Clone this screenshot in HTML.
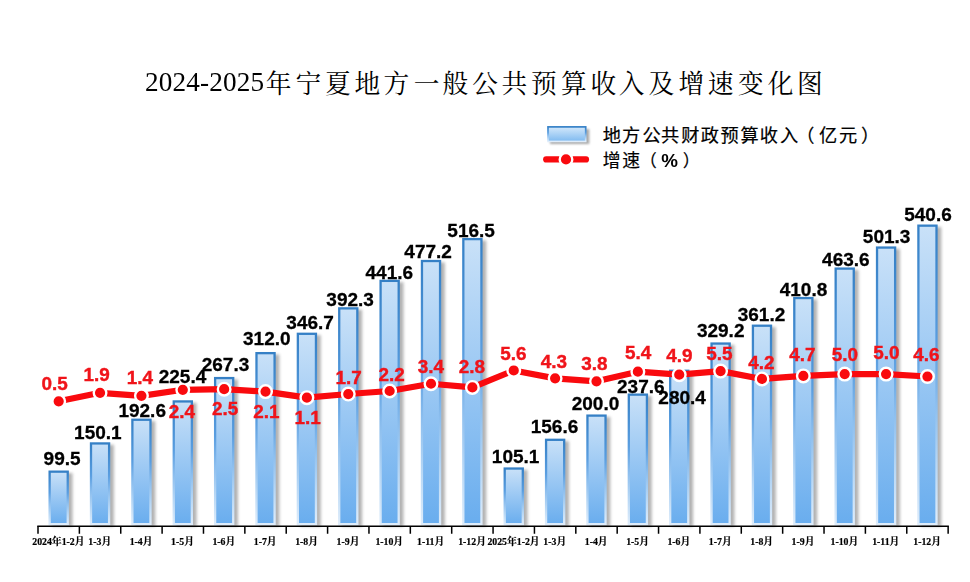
<!DOCTYPE html>
<html lang="zh-CN"><head><meta charset="utf-8"><title>2024-2025年宁夏地方一般公共预算收入及增速变化图</title>
<style>
html,body{margin:0;padding:0;background:#fff}
#c{position:relative;width:970px;height:582px;overflow:hidden;background:#fff;font-family:"Liberation Sans",sans-serif}
#c>svg{position:absolute;left:0;top:0}
.l{position:absolute;white-space:nowrap;line-height:1;opacity:.999}
.b,.r{transform:translateX(-50%)}
.b{font:bold 19px/1 "Liberation Sans",sans-serif;color:#000;-webkit-text-stroke:.3px #000}
.r{font:bold 18.9px/1 "Liberation Sans",sans-serif;color:#f0141a;-webkit-text-stroke:.4px #f0141a}
.x{font:bold 9.8px/1 "Liberation Serif","Noto Serif CJK SC",serif;color:#000;transform:translateX(-50%);-webkit-text-stroke:.2px #000}
#ttl{position:absolute;left:204.7px;transform:translateX(-50%);top:68.9px;white-space:nowrap;font:27.2px/1 "Liberation Serif",serif;color:#000;opacity:.999;letter-spacing:.15px}
.lg{position:absolute;transform:translateX(-50%);white-space:nowrap;font:bold 18.8px/1 "Liberation Sans",sans-serif;color:#000;opacity:.999}
</style></head><body>
<div id="c">
<svg width="970" height="582" viewBox="0 0 970 582" aria-hidden="true">
<defs>
<linearGradient id="gf" x1="0" y1="0" x2="0" y2="1"><stop offset="0" stop-color="#c9e1f8"/><stop offset="1" stop-color="#69adee"/></linearGradient>
<linearGradient id="gs" x1="0" y1="0" x2="0" y2="1"><stop offset="0" stop-color="#3580c6"/><stop offset="0.4" stop-color="#5a9ee0"/><stop offset="0.6" stop-color="#8cbeee"/><stop offset="0.8" stop-color="#b7d7f5"/><stop offset="1" stop-color="#deecfa"/></linearGradient>
<linearGradient id="gl" x1="0" y1="0" x2="0" y2="1"><stop offset="0" stop-color="#d3e8fb"/><stop offset="1" stop-color="#7fbaf0"/></linearGradient>
<filter id="sh" x="-50%" y="-5%" width="200%" height="110%"><feGaussianBlur stdDeviation="1.7"/></filter>
<filter id="sh2" x="-20%" y="-50%" width="140%" height="200%"><feGaussianBlur stdDeviation="1.2"/></filter>
</defs>
<g fill="#4a4a4a" opacity="0.42" filter="url(#sh)">
<rect x="52.09" y="473.01" width="20.40" height="53.49"/>
<rect x="93.45" y="444.79" width="20.40" height="81.71"/>
<rect x="134.83" y="421.09" width="20.40" height="105.41"/>
<rect x="176.19" y="402.79" width="20.40" height="123.71"/>
<rect x="217.56" y="379.43" width="20.40" height="147.07"/>
<rect x="258.94" y="354.50" width="20.40" height="172.00"/>
<rect x="300.31" y="335.15" width="20.40" height="191.35"/>
<rect x="341.68" y="309.71" width="20.40" height="216.79"/>
<rect x="383.05" y="282.22" width="20.40" height="244.28"/>
<rect x="424.42" y="262.37" width="20.40" height="264.13"/>
<rect x="465.79" y="240.45" width="20.40" height="286.05"/>
<rect x="507.16" y="469.89" width="20.40" height="56.61"/>
<rect x="548.52" y="441.16" width="20.40" height="85.34"/>
<rect x="589.89" y="416.96" width="20.40" height="109.54"/>
<rect x="631.26" y="395.99" width="20.40" height="130.51"/>
<rect x="672.63" y="372.12" width="20.40" height="154.38"/>
<rect x="714.00" y="344.91" width="20.40" height="181.59"/>
<rect x="755.37" y="327.06" width="20.40" height="199.44"/>
<rect x="796.74" y="299.40" width="20.40" height="227.10"/>
<rect x="838.11" y="269.95" width="20.40" height="256.55"/>
<rect x="879.48" y="248.92" width="20.40" height="277.58"/>
<rect x="920.85" y="227.01" width="20.40" height="299.49"/>
</g>
<g fill="url(#gf)" stroke="url(#gs)" stroke-width="2.3">
<rect x="49.63" y="471.66" width="18.10" height="52.49"/>
<rect x="91.00" y="443.44" width="18.10" height="80.71"/>
<rect x="132.38" y="419.74" width="18.10" height="104.41"/>
<rect x="173.75" y="401.44" width="18.10" height="122.71"/>
<rect x="215.12" y="378.08" width="18.10" height="146.07"/>
<rect x="256.48" y="353.15" width="18.10" height="171.00"/>
<rect x="297.85" y="333.80" width="18.10" height="190.35"/>
<rect x="339.22" y="308.36" width="18.10" height="215.79"/>
<rect x="380.59" y="280.87" width="18.10" height="243.28"/>
<rect x="421.96" y="261.02" width="18.10" height="263.13"/>
<rect x="463.33" y="239.10" width="18.10" height="285.05"/>
<rect x="504.70" y="468.54" width="18.10" height="55.61"/>
<rect x="546.07" y="439.81" width="18.10" height="84.34"/>
<rect x="587.44" y="415.61" width="18.10" height="108.54"/>
<rect x="628.81" y="394.64" width="18.10" height="129.51"/>
<rect x="670.18" y="370.77" width="18.10" height="153.38"/>
<rect x="711.55" y="343.56" width="18.10" height="180.59"/>
<rect x="752.92" y="325.71" width="18.10" height="198.44"/>
<rect x="794.29" y="298.05" width="18.10" height="226.10"/>
<rect x="835.66" y="268.60" width="18.10" height="255.55"/>
<rect x="877.03" y="247.57" width="18.10" height="276.58"/>
<rect x="918.40" y="225.66" width="18.10" height="298.49"/>
</g>
<g stroke="#000" stroke-width="1.5" fill="none">
<path d="M37.25 526.30H948.89"/>
<path d="M38.00 526.30V533.80M79.37 526.30V533.80M120.74 526.30V533.80M162.11 526.30V533.80M203.48 526.30V533.80M244.85 526.30V533.80M286.22 526.30V533.80M327.59 526.30V533.80M368.96 526.30V533.80M410.33 526.30V533.80M451.70 526.30V533.80M493.07 526.30V533.80M534.44 526.30V533.80M575.81 526.30V533.80M617.18 526.30V533.80M658.55 526.30V533.80M699.92 526.30V533.80M741.29 526.30V533.80M782.66 526.30V533.80M824.03 526.30V533.80M865.40 526.30V533.80M906.77 526.30V533.80M948.14 526.30V533.80"/>
</g>
<polyline points="58.69,401.28 100.05,392.82 141.43,395.84 182.79,389.80 224.16,389.20 265.53,391.62 306.90,397.66 348.27,394.03 389.64,391.01 431.01,383.76 472.38,387.39 513.75,370.48 555.12,378.33 596.50,381.35 637.87,371.68 679.24,374.70 720.60,371.08 761.97,378.93 803.34,375.91 844.71,374.10 886.08,374.10 927.45,376.52" fill="none" stroke="#f90a0e" stroke-width="6.2" stroke-linejoin="round" stroke-linecap="round"/>
<g fill="#f90a0e" stroke="#fff" stroke-width="2.4">
<circle cx="58.69" cy="401.28" r="6.3"/>
<circle cx="100.05" cy="392.82" r="6.3"/>
<circle cx="141.43" cy="395.84" r="6.3"/>
<circle cx="182.79" cy="389.80" r="6.3"/>
<circle cx="224.16" cy="389.20" r="6.3"/>
<circle cx="265.53" cy="391.62" r="6.3"/>
<circle cx="306.90" cy="397.66" r="6.3"/>
<circle cx="348.27" cy="394.03" r="6.3"/>
<circle cx="389.64" cy="391.01" r="6.3"/>
<circle cx="431.01" cy="383.76" r="6.3"/>
<circle cx="472.38" cy="387.39" r="6.3"/>
<circle cx="513.75" cy="370.48" r="6.3"/>
<circle cx="555.12" cy="378.33" r="6.3"/>
<circle cx="596.50" cy="381.35" r="6.3"/>
<circle cx="637.87" cy="371.68" r="6.3"/>
<circle cx="679.24" cy="374.70" r="6.3"/>
<circle cx="720.60" cy="371.08" r="6.3"/>
<circle cx="761.97" cy="378.93" r="6.3"/>
<circle cx="803.34" cy="375.91" r="6.3"/>
<circle cx="844.71" cy="374.10" r="6.3"/>
<circle cx="886.08" cy="374.10" r="6.3"/>
<circle cx="927.45" cy="376.52" r="6.3"/>
</g>
<rect x="550" y="129" width="39.3" height="15" fill="#555" opacity="0.5" filter="url(#sh2)"/>
<rect x="548" y="126.9" width="37.7" height="14.5" fill="url(#gl)" stroke="url(#gs)" stroke-width="1.7"/>
<path d="M546.2 159.4H586" stroke="#f90a0e" stroke-width="6.2" stroke-linecap="round"/>
<circle cx="566" cy="159.4" r="6.3" fill="#f90a0e" stroke="#fff" stroke-width="2.4"/>
<g fill="#000">
<text y="93" font-size="25.7" font-family="'Liberation Serif','Noto Serif CJK SC',serif" x="265.74 295.55 325.00 354.53 383.55 413.86 442.45 472.16 501.56 530.95 561.02 590.38 618.87 648.62 678.49 707.70 738.12 767.77 796.89">年宁夏地方一般公共预算收入及增速变化图</text>
<g stroke="#000" stroke-width="0.2" font-family="'Liberation Sans','Noto Sans CJK SC',sans-serif">
<text y="141.6" font-size="18.2" x="602.84 622.08 642.55 661.06 681.13 700.66 720.56 740.41 759.72 779.90 796.30 819.07 838.88 860.93">地方公共财政预算收入（亿元）</text>
<text y="167.2" font-size="17.8" x="602.66 622.15">增速</text>
<text y="167.3" font-size="17.1" x="639.64">（</text>
<text y="167.3" font-size="17.1" x="682.75">）</text>
</g>
</g>
</svg>
<div id="ttl">2024-2025</div>
<div class="lg" style="left:669.6px;top:151.8px">%</div>
<div class="l b" style="left:62.1px;top:448.7px">99.5</div>
<div class="l b" style="left:97.9px;top:422.8px">150.1</div>
<div class="l b" style="left:142.2px;top:401.0px">192.6</div>
<div class="l b" style="left:182.5px;top:366.5px">225.4</div>
<div class="l b" style="left:225.5px;top:355.1px">267.3</div>
<div class="l b" style="left:266.8px;top:328.5px">312.0</div>
<div class="l b" style="left:310.1px;top:312.6px">346.7</div>
<div class="l b" style="left:350.1px;top:289.9px">392.3</div>
<div class="l b" style="left:389.3px;top:263.2px">441.6</div>
<div class="l b" style="left:428.1px;top:242.4px">477.2</div>
<div class="l b" style="left:471.1px;top:221.4px">516.5</div>
<div class="l b" style="left:515.6px;top:446.9px">105.1</div>
<div class="l b" style="left:554.5px;top:416.7px">156.6</div>
<div class="l b" style="left:595.5px;top:394.0px">200.0</div>
<div class="l b" style="left:640.8px;top:377.4px">237.6</div>
<div class="l b" style="left:682.1px;top:387.6px">280.4</div>
<div class="l b" style="left:720.7px;top:321.3px">329.2</div>
<div class="l b" style="left:761.5px;top:305.0px">361.2</div>
<div class="l b" style="left:803.5px;top:280.1px">410.8</div>
<div class="l b" style="left:845.9px;top:249.6px">463.6</div>
<div class="l b" style="left:886.6px;top:226.8px">501.3</div>
<div class="l b" style="left:928.0px;top:205.4px">540.6</div>
<div class="l r" style="left:54.6px;top:375.2px">0.5</div>
<div class="l r" style="left:96.7px;top:366.2px">1.9</div>
<div class="l r" style="left:140.0px;top:369.0px">1.4</div>
<div class="l r" style="left:181.9px;top:403.4px">2.4</div>
<div class="l r" style="left:225.2px;top:399.6px">2.5</div>
<div class="l r" style="left:266.3px;top:403.1px">2.1</div>
<div class="l r" style="left:307.6px;top:409.1px">1.1</div>
<div class="l r" style="left:348.6px;top:368.7px">1.7</div>
<div class="l r" style="left:391.6px;top:365.6px">2.2</div>
<div class="l r" style="left:430.8px;top:357.6px">3.4</div>
<div class="l r" style="left:471.9px;top:357.6px">2.8</div>
<div class="l r" style="left:513.4px;top:344.6px">5.6</div>
<div class="l r" style="left:554.0px;top:353.4px">4.3</div>
<div class="l r" style="left:594.4px;top:355.4px">3.8</div>
<div class="l r" style="left:638.2px;top:344.2px">5.4</div>
<div class="l r" style="left:679.5px;top:347.0px">4.9</div>
<div class="l r" style="left:719.5px;top:345.1px">5.5</div>
<div class="l r" style="left:761.4px;top:353.9px">4.2</div>
<div class="l r" style="left:802.5px;top:346.4px">4.7</div>
<div class="l r" style="left:844.8px;top:346.1px">5.0</div>
<div class="l r" style="left:886.3px;top:344.2px">5.0</div>
<div class="l r" style="left:926.4px;top:345.7px">4.6</div>
<div class="l x" style="left:58.4px;top:537.3px">2024年1-2月</div>
<div class="l x" style="left:99.8px;top:537.3px">1-3月</div>
<div class="l x" style="left:141.1px;top:537.3px">1-4月</div>
<div class="l x" style="left:182.5px;top:537.3px">1-5月</div>
<div class="l x" style="left:223.9px;top:537.3px">1-6月</div>
<div class="l x" style="left:265.2px;top:537.3px">1-7月</div>
<div class="l x" style="left:306.6px;top:537.3px">1-8月</div>
<div class="l x" style="left:348.0px;top:537.3px">1-9月</div>
<div class="l x" style="left:389.3px;top:537.3px">1-10月</div>
<div class="l x" style="left:430.7px;top:537.3px">1-11月</div>
<div class="l x" style="left:472.1px;top:537.3px">1-12月</div>
<div class="l x" style="left:513.5px;top:537.3px">2025年1-2月</div>
<div class="l x" style="left:554.8px;top:537.3px">1-3月</div>
<div class="l x" style="left:596.2px;top:537.3px">1-4月</div>
<div class="l x" style="left:637.6px;top:537.3px">1-5月</div>
<div class="l x" style="left:678.9px;top:537.3px">1-6月</div>
<div class="l x" style="left:720.3px;top:537.3px">1-7月</div>
<div class="l x" style="left:761.7px;top:537.3px">1-8月</div>
<div class="l x" style="left:803.0px;top:537.3px">1-9月</div>
<div class="l x" style="left:844.4px;top:537.3px">1-10月</div>
<div class="l x" style="left:885.8px;top:537.3px">1-11月</div>
<div class="l x" style="left:927.2px;top:537.3px">1-12月</div>
</div></body></html>
